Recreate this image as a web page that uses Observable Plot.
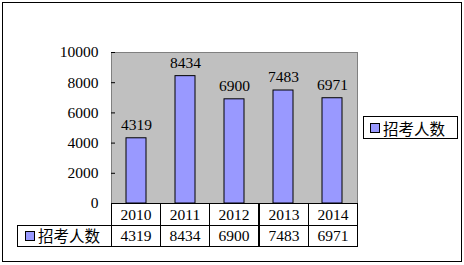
<!DOCTYPE html>
<html>
<head>
<meta charset="utf-8">
<script src="https://cdn.jsdelivr.net/npm/d3@7"></script>
<script src="https://cdn.jsdelivr.net/npm/@observablehq/plot@0.6"></script>
<style>
  body { margin: 0; background: #fff; }
  #wrap { position: relative; width: 464px; height: 265px; overflow: hidden; background: #fff; }
  #wrap svg { position: absolute; left: 0; top: 0; }
  .border { position: absolute; left: 2px; top: 2px; width: 460px; height: 260px; border: 1px solid #000; box-sizing: border-box; }
  .cell { position: absolute; border: 1px solid #000; box-sizing: border-box; background: #fff;
          display: flex; align-items: center; justify-content: center;
          font-family: "Liberation Serif", serif; font-size: 15.5px; color: #000; line-height: 1; }
  .cn { font-family: "Noto Sans CJK SC", sans-serif; font-size: 15.5px; }
  .sw { display: inline-block; width: 10px; height: 10px; background: #9999ff; border: 1px solid #000; box-sizing: border-box; margin-right: 3px; }
  .legend { position: absolute; border: 1px solid #000; box-sizing: border-box; background: #fff;
            display: flex; align-items: center; padding-left: 6px; }
</style>
</head>
<body>
<div id="wrap"><div class="border"></div></div>
<script>
const years = ["2010", "2011", "2012", "2013", "2014"];
const values = [4319, 8434, 6900, 7483, 6971];
const seriesName = "招考人数";
const yTicks = [0, 2000, 4000, 6000, 8000, 10000];

const data = years.map((y, i) => ({year: y, value: values[i]}));

const W = 464, H = 265;
const mL = 111, mR = 107, mT = 52, mB = 62;
const innerW = W - mL - mR;

const chart = Plot.plot({
  width: W, height: H,
  marginLeft: mL, marginRight: mR, marginTop: mT, marginBottom: mB,
  style: {fontFamily: "'Liberation Serif', serif", fontSize: "15.5px", color: "#000", background: "transparent"},
  x: {domain: years, paddingInner: 0.6, paddingOuter: 0.3, axis: null},
  y: {domain: [0, 10000], ticks: yTicks, label: null},
  marks: [
    Plot.frame({fill: "#c0c0c0", stroke: "#808080"}),
    Plot.barY(data, {x: "year", y: "value", fill: "#9999ff", stroke: "#000", strokeWidth: 1}),
    Plot.ruleY([0], {stroke: "#000"}),
    Plot.axisY({ticks: yTicks, label: null, tickSize: 0, tickPadding: 13, line: true, stroke: "#000", fill: "#000", tickFormat: d => String(d)}),
    Plot.tickY(yTicks, {y: d => d, stroke: "#000", insetRight: innerW - 4}),
    Plot.text(data, {x: "year", y: "value", text: d => String(d.value), dy: -13, fill: "#000"})
  ]
});

const wrap = document.getElementById("wrap");
wrap.appendChild(chart);

// data table aligned to the x scale
const xs = chart.scale("x");
const [r0, r1] = xs.range;
const step = (r1 - r0) / years.length;
const rowTop1 = H - mB, rowH = 22;
const rowTop2 = rowTop1 + rowH, rowH2 = 21;
const leftX = 17;

function cell(x, y, w, h, html, cls) {
  const d = document.createElement("div");
  d.className = "cell" + (cls ? " " + cls : "");
  d.style.left = x + "px"; d.style.top = y + "px";
  d.style.width = (w + 1) + "px"; d.style.height = (h + 1) + "px";
  d.innerHTML = html;
  wrap.appendChild(d);
  return d;
}
years.forEach((y, i) => {
  cell(Math.round(r0 + i * step), rowTop1, Math.round(step), rowH, y);
  cell(Math.round(r0 + i * step), rowTop2, Math.round(step), rowH2, String(values[i]));
});
const lc = cell(leftX, rowTop2, Math.round(r0 - leftX), rowH2, `<span class="sw"></span><span class="cn">${seriesName}</span>`);
lc.style.justifyContent = "flex-start";
lc.style.paddingLeft = "7px";

// legend on the right
const lg = document.createElement("div");
lg.className = "legend";
lg.style.left = "363px"; lg.style.top = "116px"; lg.style.width = "95px"; lg.style.height = "23px";
lg.innerHTML = `<span class="sw"></span><span class="cn">${seriesName}</span>`;
wrap.appendChild(lg);
</script>
</body>
</html>
